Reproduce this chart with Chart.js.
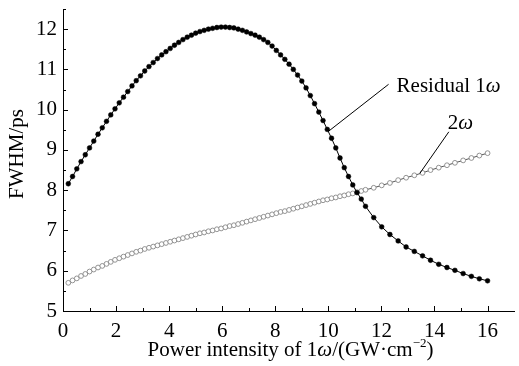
<!DOCTYPE html>
<html>
<head>
<meta charset="utf-8">
<script src="https://cdn.jsdelivr.net/npm/chart.js@4.4.0/dist/chart.umd.min.js"></script>
<style>
  html, body { margin: 0; padding: 0; background: #fff; }
  #wrap { width: 519px; height: 366px; }
</style>
</head>
<body>
<div id="wrap"><canvas id="fwhmChart" width="519" height="366"></canvas></div>
<script>
// power intensity of 1w, GW/cm^2 (same sampling for both curves)
const intensity = [
  0.20, 0.36, 0.52, 0.68, 0.84, 1.00, 1.16, 1.32, 1.48, 1.64,
  1.80, 1.96, 2.12, 2.28, 2.44, 2.60, 2.76, 2.92, 3.08, 3.24,
  3.40, 3.56, 3.72, 3.88, 4.04, 4.20, 4.36, 4.52, 4.68, 4.84,
  5.00, 5.16, 5.32, 5.48, 5.64, 5.80, 5.96, 6.12, 6.28, 6.44,
  6.60, 6.76, 6.92, 7.08, 7.24, 7.40, 7.56, 7.72, 7.88, 8.04,
  8.20, 8.36, 8.52, 8.68, 8.84, 9.00, 9.16, 9.32, 9.48, 9.64,
  9.80, 9.96, 10.12, 10.28, 10.44, 10.60, 10.76, 10.92, 11.08, 11.24,
  11.40, 11.71, 12.01, 12.32, 12.63, 12.93, 13.24, 13.55, 13.85, 14.16,
  14.47, 14.77, 15.08, 15.39, 15.69, 16.00
];

// FWHM of residual 1w, ps
const residual1w = [
  8.16, 8.34, 8.53, 8.71, 8.88, 9.05, 9.22, 9.39, 9.55, 9.71,
  9.87, 10.02, 10.17, 10.31, 10.45, 10.59, 10.72, 10.84, 10.96, 11.07,
  11.17, 11.27, 11.36, 11.44, 11.52, 11.60, 11.67, 11.74, 11.80, 11.85,
  11.90, 11.94, 11.97, 12.00, 12.02, 12.04, 12.05, 12.05, 12.04, 12.03,
  12.00, 11.97, 11.93, 11.89, 11.85, 11.80, 11.74, 11.67, 11.58, 11.47,
  11.36, 11.25, 11.13, 11.00, 10.86, 10.71, 10.54, 10.35, 10.15, 9.94,
  9.73, 9.51, 9.29, 9.05, 8.80, 8.56, 8.34, 8.13, 7.94, 7.78,
  7.60, 7.32, 7.09, 6.90, 6.74, 6.59, 6.48, 6.37, 6.26, 6.16,
  6.08, 6.01, 5.93, 5.86, 5.80, 5.75
];

// FWHM of 2w, ps
const second2w = [
  5.70, 5.76, 5.81, 5.87, 5.92, 5.98, 6.03, 6.08, 6.12, 6.17,
  6.22, 6.27, 6.31, 6.35, 6.39, 6.43, 6.47, 6.50, 6.54, 6.57,
  6.60, 6.63, 6.66, 6.69, 6.72, 6.75, 6.78, 6.81, 6.84, 6.87,
  6.90, 6.93, 6.95, 6.98, 7.00, 7.03, 7.05, 7.08, 7.11, 7.13,
  7.16, 7.19, 7.22, 7.25, 7.28, 7.31, 7.34, 7.37, 7.40, 7.43,
  7.46, 7.48, 7.51, 7.54, 7.57, 7.60, 7.63, 7.66, 7.69, 7.72,
  7.75, 7.77, 7.80, 7.82, 7.85, 7.87, 7.90, 7.92, 7.95, 7.98,
  8.01, 8.06, 8.12, 8.18, 8.25, 8.31, 8.37, 8.43, 8.50, 8.56,
  8.62, 8.68, 8.74, 8.80, 8.86, 8.92
];

const xTicks = [0, 2, 4, 6, 8, 10, 12, 14, 16];
const xMinorTicks = [1, 3, 5, 7, 9, 11, 13, 15];
const yTicks = [5, 6, 7, 8, 9, 10, 11, 12];
const yMinorTicks = [5.5, 6.5, 7.5, 8.5, 9.5, 10.5, 11.5, 12.5];

// callouts: [point on curve], [end of leader line] in data units
const residualPoint = [10.0, 9.46];
const residualLabelAt = [12.27, 10.63];
const secondPoint = [13.45, 8.42];
const secondLabelAt = [14.54, 9.45];

const FONT = "'Liberation Serif', 'Times New Roman', serif";

// draw a run of [text, italic, superscript] pieces starting at x
function drawPieces(ctx, pieces, x, y, size) {
  pieces.forEach(p => {
    const sz = p[2] ? size * 0.62 : size;
    ctx.font = (p[1] ? 'italic ' : '') + sz + 'px ' + FONT;
    ctx.fillText(p[0], x, p[2] ? y - size * 0.42 : y);
    x += ctx.measureText(p[0]).width;
  });
}
function piecesWidth(ctx, pieces, size) {
  let w = 0;
  pieces.forEach(p => {
    const sz = p[2] ? size * 0.62 : size;
    ctx.font = (p[1] ? 'italic ' : '') + sz + 'px ' + FONT;
    w += ctx.measureText(p[0]).width;
  });
  return w;
}

const axisDecor = {
  id: 'axisDecor',
  afterDraw(chart) {
    const { ctx, chartArea, scales: { x, y } } = chart;
    ctx.save();
    ctx.strokeStyle = '#000';
    ctx.lineWidth = 1;

    // inward tick marks
    ctx.beginPath();
    xTicks.forEach(v => {
      const px = Math.round(x.getPixelForValue(v)) + 0.5;
      ctx.moveTo(px, chartArea.bottom); ctx.lineTo(px, chartArea.bottom - 5);
    });
    xMinorTicks.forEach(v => {
      const px = Math.round(x.getPixelForValue(v)) + 0.5;
      ctx.moveTo(px, chartArea.bottom); ctx.lineTo(px, chartArea.bottom - 3);
    });
    yTicks.forEach(v => {
      const py = Math.round(y.getPixelForValue(v)) + 0.5;
      ctx.moveTo(chartArea.left, py); ctx.lineTo(chartArea.left + 5, py);
    });
    yMinorTicks.forEach(v => {
      const py = Math.round(y.getPixelForValue(v)) + 0.5;
      ctx.moveTo(chartArea.left, py); ctx.lineTo(chartArea.left + 3, py);
    });
    ctx.stroke();

    // leader lines
    ctx.beginPath();
    ctx.moveTo(x.getPixelForValue(residualPoint[0]), y.getPixelForValue(residualPoint[1]));
    ctx.lineTo(x.getPixelForValue(residualLabelAt[0]), y.getPixelForValue(residualLabelAt[1]));
    ctx.moveTo(x.getPixelForValue(secondPoint[0]), y.getPixelForValue(secondPoint[1]));
    ctx.lineTo(x.getPixelForValue(secondLabelAt[0]), y.getPixelForValue(secondLabelAt[1]));
    ctx.stroke();

    ctx.fillStyle = '#000';
    ctx.textBaseline = 'alphabetic';
    ctx.textAlign = 'left';

    // curve labels
    drawPieces(ctx, [['Residual 1', false], ['\u03C9', true]],
      x.getPixelForValue(residualLabelAt[0]) + 8, y.getPixelForValue(residualLabelAt[1]) + 8, 21);
    drawPieces(ctx, [['2', false], ['\u03C9', true]],
      x.getPixelForValue(secondLabelAt[0]) - 1, y.getPixelForValue(secondLabelAt[1]) - 3, 21);

    // x axis title
    const xTitle = [['Power intensity of 1', false], ['\u03C9', true], ['/(GW\u00B7cm', false], ['\u22122', false, true], [')', false]];
    const xw = piecesWidth(ctx, xTitle, 21);
    drawPieces(ctx, xTitle, (chartArea.left + chartArea.right) / 2 - xw / 2 + 2, 356, 21);

    // y axis title
    ctx.translate(23, 154);
    ctx.rotate(-Math.PI / 2);
    const yTitle = [['FWHM/ps', false]];
    const yw = piecesWidth(ctx, yTitle, 21);
    drawPieces(ctx, yTitle, -yw / 2, 0, 21);

    ctx.restore();
  }
};

new Chart(document.getElementById('fwhmChart'), {
  type: 'line',
  data: {
    datasets: [
      {
        label: 'Residual 1\u03C9',
        data: intensity.map((v, i) => ({ x: v, y: residual1w[i] })),
        borderColor: '#000',
        borderWidth: 1,
        pointRadius: 2.4,
        pointBackgroundColor: '#000',
        pointBorderColor: '#000',
        pointBorderWidth: 0.5,
        tension: 0
      },
      {
        label: '2\u03C9',
        data: intensity.map((v, i) => ({ x: v, y: second2w[i] })),
        borderColor: '#555',
        borderWidth: 1,
        pointRadius: 2.4,
        pointBackgroundColor: '#fff',
        pointBorderColor: '#888',
        pointBorderWidth: 0.9,
        tension: 0
      }
    ]
  },
  options: {
    responsive: false,
    animation: false,
    devicePixelRatio: 1,
    layout: { padding: { top: 9, right: 0, left: 0, bottom: 0 } },
    plugins: { legend: { display: false }, tooltip: { enabled: false } },
    scales: {
      x: {
        type: 'linear',
        min: 0,
        max: 17,
        afterBuildTicks: s => { s.ticks = xTicks.map(v => ({ value: v })); },
        afterFit: s => { s.height = 55; s.paddingLeft = 0; s.paddingRight = 0; },
        grid: { display: false, drawTicks: false },
        border: { display: true, color: '#000', width: 1 },
        ticks: { color: '#000', font: { family: FONT, size: 21 }, padding: 8, maxRotation: 0, autoSkip: false }
      },
      y: {
        type: 'linear',
        min: 5,
        max: 12.5,
        afterBuildTicks: s => { s.ticks = yTicks.map(v => ({ value: v })); },
        afterFit: s => { s.width = 63; s.paddingTop = 0; s.paddingBottom = 0; },
        grid: { display: false, drawTicks: false },
        border: { display: true, color: '#000', width: 1 },
        ticks: { color: '#000', font: { family: FONT, size: 21 }, padding: 6, autoSkip: false }
      }
    }
  },
  plugins: [axisDecor]
});
</script>
</body>
</html>
